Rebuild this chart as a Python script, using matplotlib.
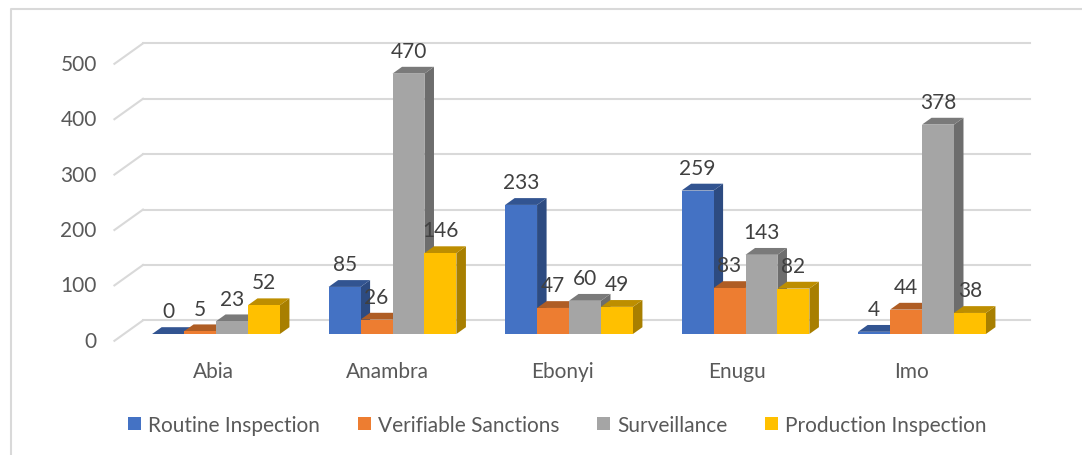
"""Inspection activities by state, drawn as Excel-style 3D clustered columns."""

import matplotlib
matplotlib.use("Agg")
import matplotlib.pyplot as plt
from matplotlib.patches import Polygon, Patch
from matplotlib.colors import to_rgb

plt.rcParams["font.family"] = ["Lato", "DejaVu Sans"]

states = ["Abia", "Anambra", "Ebonyi", "Enugu", "Imo"]
routine = [0, 85, 233, 259, 4]
sanctions = [5, 26, 47, 83, 44]
surveillance = [23, 470, 60, 143, 378]
production = [52, 146, 49, 82, 38]
series_names = ["Routine Inspection", "Verifiable Sanctions", "Surveillance", "Production Inspection"]
y_ticks = [0, 100, 200, 300, 400, 500]

series = [routine, sanctions, surveillance, production]
colors = ["#4472C4", "#ED7D31", "#A5A5A5", "#FFC000"]


def shade(color, f):
    r, g, b = to_rgb(color)
    return (r * f, g * f, b * f)


# geometry (category units on x, data values on y)
W = 0.181          # bar width
DX = 0.054         # depth step, x
DY = 12.3          # depth step, y
GRID = "#D9D9D9"
TXT = "#595959"
FS = 15

fig = plt.figure(figsize=(10.82, 4.56), dpi=100)
ax = fig.add_axes([0, 0, 1, 1])
ax.set_xlim(-1.2238, 4.9065)
ax.set_ylim(-218.4, 604.7)
ax.axis("off")

# outer frame (only left/top edges fall inside the picture)
ax.plot([-1.161, -1.161, 5.0], [-300, 586.6, 586.6], color="#D9D9D9", lw=1.5, zorder=0)

# back wall gridlines and left-wall diagonals
wall_left, wall_right = -0.4136, 4.612
for v in y_ticks:
    ax.plot([wall_left, wall_right], [v + 2 * DY, v + 2 * DY], color=GRID, lw=1.5, zorder=1)
    ax.plot([wall_left - 3 * DX, wall_left], [v - DY, v + 2 * DY], color=GRID, lw=1.5, zorder=1)
    ax.text(wall_left - 3 * DX - 0.1, v - DY, str(v), ha="right", va="center",
            fontsize=FS, color=TXT)

# bars: side, top, then front, left to right so later fronts hide earlier sides
for j, (vals, col) in enumerate(zip(series, colors)):
    z = 2 + j * 0.1
    for i, h in enumerate(vals):
        left = i - 2 * W + j * W
        side = [(left + W, 0), (left + W + DX, DY), (left + W + DX, h + DY), (left + W, h)]
        top = [(left, h), (left + W, h), (left + W + DX, h + DY), (left + DX, h + DY)]
        ax.add_patch(Polygon(side, closed=True, facecolor=shade(col, 0.66), edgecolor="none", zorder=z))
        ax.add_patch(Polygon(top, closed=True, facecolor=shade(col, 0.74), edgecolor="none", zorder=z + 0.01))
        ax.bar(left, h, width=W, align="edge", color=col, zorder=z + 0.02)
        ax.text(left + W / 2, h + 41, str(h), ha="center", va="center",
                fontsize=FS, color="#404040", zorder=10)

# category labels sit on the front edge of the floor
for i, name in enumerate(states):
    ax.text(i * 0.9887 - 0.017, -67, name, ha="center", va="center", fontsize=FS, color=TXT)

handles = [Patch(facecolor=c, edgecolor="none") for c in colors]
fig.legend(handles, series_names, loc="center", bbox_to_anchor=(0.515, 1 - 426 / 456),
           ncol=4, frameon=False, fontsize=FS, handlelength=0.62, handleheight=0.62,
           handletextpad=0.35, columnspacing=1.8, labelcolor=TXT)

fig.savefig("out.png", dpi=100)
